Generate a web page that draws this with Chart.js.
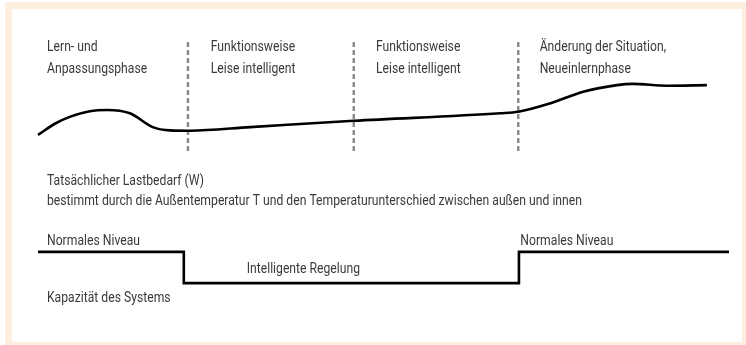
<!DOCTYPE html>
<html>
<head>
<meta charset="utf-8">
<script src="https://cdn.jsdelivr.net/npm/chart.js@4/dist/chart.umd.min.js"></script>
<style>
    html, body { margin: 0; padding: 0; background: #fff; }
    #rahmen { position: relative; width: 746px; height: 345px; overflow: hidden; }
    #rand { position: absolute; left: 5px; top: 2px; width: 730px; height: 333px; border: 7px solid #fdeee0; border-right-width: 5px; border-bottom-width: 5px; }
    #grafik { position: absolute; left: 0; top: 0; }
</style>
</head>
<body>
<div id="rahmen">
    <div id="rand"></div>
    <canvas id="grafik" width="746" height="345"></canvas>
</div>
<script>
// Zeitachse 0..100, Leistung 0..100 (geschaetzt aus dem Bild)
const lastX = [0, 2.5, 4.6, 7.5, 10.0, 13.3, 16.6, 19.1, 22.0, 30.7, 45.7, 66.9, 69.5, 74.1, 78.9, 83.8, 86.1, 91.0, 96.8];
const lastY = [61.7, 65.5, 67.7, 69.6, 70.0, 68.9, 64.3, 63.2, 63.1, 64.3, 66.4, 68.9, 69.4, 72.2, 76.1, 78.3, 78.7, 78.1, 78.3];

const kapazitaetX = [0, 21.1, 69.6, 100];
const kapazitaetY = [22.7, 12.3, 22.7, 22.7];

const phasenGrenzen = [21.7, 45.7, 69.5];
const grenzeVon = 92.7;
const grenzeBis = 56;

const phasenTexte = [
    ["Lern- und", "Anpassungsphase"],
    ["Funktionsweise", "Leise intelligent"],
    ["Funktionsweise", "Leise intelligent"],
    ["Änderung der Situation,", "Neueinlernphase"]
];
const phasenStart = [1.3, 25.0, 48.9, 72.6];

const beschriftungen = [
    ["Tatsächlicher Lastbedarf (W)", 1.3, 45],
    ["bestimmt durch die Außentemperatur T und den Temperaturunterschied zwischen außen und innen", 1.3, 38.3],
    ["Normales Niveau", 1.3, 25],
    ["Normales Niveau", 69.8, 25],
    ["Intelligente Regelung", 30.2, 15.7],
    ["Kapazität des Systems", 1.3, 6]
];

const schrift = "15px Roboto, 'Liberation Sans', sans-serif";
const textFarbe = "#3a3a3a";
// die Vorlage nutzt eine schmale Schrift: Breite der langen Zeile ca. 535px
const zielBreite = 535;

function punkte(xs, ys) {
    return xs.map((x, i) => ({ x: x, y: ys[i] }));
}

const grenzDatensaetze = phasenGrenzen.map(x => ({
    data: [{ x: x, y: grenzeVon }, { x: x, y: grenzeBis }],
    borderColor: "#8c8c8c",
    borderWidth: 2.5,
    borderDash: [5, 3],
    pointRadius: 0,
    clip: false
}));

const textPlugin = {
    id: "texte",
    afterDraw(chart) {
        const ctx = chart.ctx;
        const sx = chart.scales.x;
        const sy = chart.scales.y;
        ctx.save();
        ctx.font = schrift;
        ctx.fillStyle = textFarbe;
        ctx.textBaseline = "alphabetic";
        const f = zielBreite / ctx.measureText(beschriftungen[1][0]).width;
        const schreibe = (text, px, py) => {
            ctx.save();
            ctx.translate(px, py);
            ctx.scale(f, 1);
            ctx.fillText(text, 0, 0);
            ctx.restore();
        };
        phasenTexte.forEach((zeilen, i) => {
            const px = sx.getPixelForValue(phasenStart[i]);
            schreibe(zeilen[0], px, sy.getPixelForValue(89.7));
            schreibe(zeilen[1], px, sy.getPixelForValue(82.3));
        });
        beschriftungen.forEach(b => {
            schreibe(b[0], sx.getPixelForValue(b[1]), sy.getPixelForValue(b[2]));
        });
        ctx.restore();
    }
};

new Chart(document.querySelector("#grafik"), {
    type: "line",
    data: {
        datasets: [
            {
                data: punkte(lastX, lastY),
                borderColor: "#000",
                borderWidth: 2.6,
                cubicInterpolationMode: "monotone",
                pointRadius: 0,
                clip: false
            },
            {
                data: punkte(kapazitaetX, kapazitaetY),
                borderColor: "#000",
                borderWidth: 2.6,
                stepped: true,
                borderJoinStyle: "miter",
                pointRadius: 0,
                clip: false
            },
            ...grenzDatensaetze
        ]
    },
    options: {
        responsive: false,
        animation: false,
        layout: { padding: { left: 38, right: 17, top: 20, bottom: 25 } },
        plugins: { legend: { display: false }, tooltip: { enabled: false } },
        scales: {
            x: { type: "linear", min: 0, max: 100, display: false },
            y: { min: 0, max: 100, display: false }
        }
    },
    plugins: [textPlugin]
});
</script>
</body>
</html>
